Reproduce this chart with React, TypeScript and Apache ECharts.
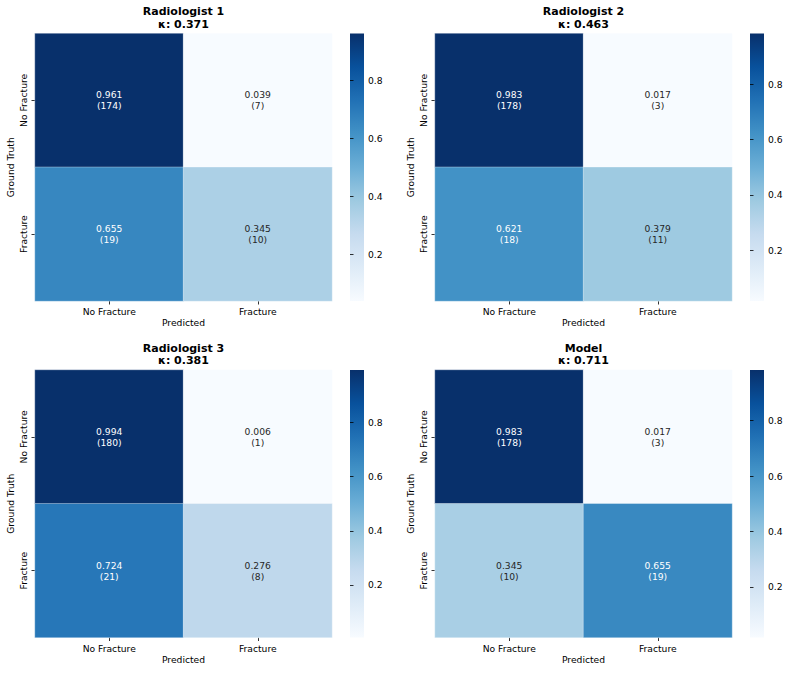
import React, { useEffect, useRef } from 'react';
import * as echarts from 'echarts';

const classLabels = ['No Fracture', 'Fracture'];
const panelTitles = ['Radiologist 1', 'Radiologist 2', 'Radiologist 3', 'Model'];
const kappas = [0.371, 0.463, 0.381, 0.711];

const rad1Rates = [[0.961, 0.039], [0.655, 0.345]];
const rad1Counts = [[174, 7], [19, 10]];
const rad2Rates = [[0.983, 0.017], [0.621, 0.379]];
const rad2Counts = [[178, 3], [18, 11]];
const rad3Rates = [[0.994, 0.006], [0.724, 0.276]];
const rad3Counts = [[180, 1], [21, 8]];
const modelRates = [[0.983, 0.017], [0.345, 0.655]];
const modelCounts = [[178, 3], [10, 19]];

const colorbarTicks = [0.2, 0.4, 0.6, 0.8];

const blues = ['#f7fbff', '#deebf7', '#c6dbef', '#9ecae1', '#6baed6', '#4292c6', '#2171b5', '#08519c', '#08306b'];

const FONT = 'DejaVu Sans';

export default function App() {
  const ref = useRef<HTMLDivElement>(null);
  useEffect(() => {
    if (!ref.current) return;
    const chart = echarts.init(ref.current, undefined, { renderer: 'svg' });
    const rates = [rad1Rates, rad2Rates, rad3Rates, modelRates];
    const counts = [rad1Counts, rad2Counts, rad3Counts, modelCounts];

    const grid: any[] = [];
    const xAxis: any[] = [];
    const yAxis: any[] = [];
    const series: any[] = [];
    const visualMap: any[] = [];
    const title: any[] = [];
    const graphic: any[] = [];

    const W = 297, H = 267.5;
    for (let i = 0; i < 4; i++) {
      const col = i % 2, row = Math.floor(i / 2);
      const left = 35 + 400 * col;
      const top = 33.5 + 336.5 * row;
      const flat = rates[i].flat();
      const vmin = Math.min(...flat), vmax = Math.max(...flat);

      grid.push({ left, top, width: W, height: H });
      grid.push({ left: left + 315, top, width: 14, height: H });

      const tickStyle = { show: true, length: 3.5, lineStyle: { color: '#000', width: 0.8 } };
      xAxis.push({
        type: 'category', gridIndex: 2 * i, data: classLabels, position: 'bottom',
        axisLine: { show: false }, axisTick: { ...tickStyle, alignWithLabel: true },
        axisLabel: { fontSize: 9.2, color: '#000', margin: 6, fontFamily: FONT },
        splitLine: { show: false }, splitArea: { show: false },
        name: 'Predicted', nameLocation: 'middle', nameGap: 17,
        nameTextStyle: { fontSize: 9.2, color: '#000', fontFamily: FONT },
      });
      yAxis.push({
        type: 'category', gridIndex: 2 * i, data: classLabels, inverse: true,
        axisLine: { show: false }, axisTick: { ...tickStyle, alignWithLabel: true },
        axisLabel: { fontSize: 9.2, color: '#000', margin: 7, rotate: 90, fontFamily: FONT },
        splitLine: { show: false }, splitArea: { show: false },
        name: 'Ground Truth', nameLocation: 'middle', nameGap: 20,
        nameTextStyle: { fontSize: 9.2, color: '#000', fontFamily: FONT },
      });
      xAxis.push({ type: 'value', gridIndex: 2 * i + 1, show: false });
      yAxis.push({
        type: 'value', gridIndex: 2 * i + 1, min: vmin, max: vmax, position: 'right',
        axisLine: { show: false },
        axisTick: { ...tickStyle, customValues: colorbarTicks },
        axisLabel: { fontSize: 9.2, color: '#000', margin: 4, fontFamily: FONT, customValues: colorbarTicks, formatter: (v: number) => v.toFixed(1) },
        splitLine: { show: false },
      });

      const data: any[] = [];
      for (let r = 0; r < 2; r++) {
        for (let c = 0; c < 2; c++) {
          const v = rates[i][r][c];
          const dark = (v - vmin) / (vmax - vmin) > 0.5;
          data.push({ value: [c, r, v, counts[i][r][c]], label: { color: dark ? '#ffffff' : '#262626' } });
        }
      }
      series.push({
        type: 'heatmap', xAxisIndex: 2 * i, yAxisIndex: 2 * i, data,
        itemStyle: { borderWidth: 0.6, borderColor: 'rgba(255,255,255,0.55)' },
        label: {
          show: true, fontSize: 9.2, lineHeight: 11, fontFamily: FONT,
          formatter: (p: any) => p.value[2].toFixed(3) + '\n(' + p.value[3] + ')',
        },
        emphasis: { disabled: true },
      });
      visualMap.push({
        type: 'continuous', seriesIndex: i, dimension: 2, min: vmin, max: vmax,
        inRange: { color: blues }, show: false,
      });
      graphic.push({
        type: 'rect', silent: true,
        shape: { x: left + 315, y: top, width: 14, height: H },
        style: {
          fill: {
            type: 'linear', x: 0, y: 1, x2: 0, y2: 0,
            colorStops: blues.map((c, k) => ({ offset: k / (blues.length - 1), color: c })),
          },
        },
      });
      title.push({
        text: panelTitles[i] + '\nκ: ' + kappas[i].toFixed(3),
        left: left + W / 2, top: 5.4 + 336.5 * row, textAlign: 'center', padding: 0,
        textStyle: { fontSize: 11, fontWeight: 'bold', color: '#000', fontFamily: FONT, lineHeight: 12.6 },
      });
    }

    chart.setOption({
      animation: false,
      backgroundColor: '#ffffff',
      title, grid, xAxis, yAxis, series, visualMap, graphic,
    });
    return () => chart.dispose();
  }, []);
  return <div ref={ref} style={{ position: 'absolute', left: 0, top: 0, width: 792, height: 674 }} />;
}
